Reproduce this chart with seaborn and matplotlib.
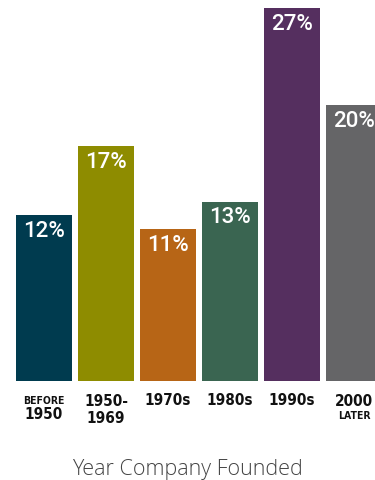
import matplotlib
matplotlib.use("Agg")
import matplotlib.pyplot as plt
import seaborn as sns
import pandas as pd

# Share of companies by founding period
periods = ["BEFORE 1950", "1950-1969", "1970s", "1980s", "1990s", "2000 LATER"]
shares = [12, 17, 11, 13, 27, 20]
colors = ["#003B4F", "#8E8C00", "#B76516", "#3A6551", "#552F5F", "#656567"]

# Tick label lines: (text, size class, top of line in pixels)
tick_lines = [
    [("BEFORE", "small", 396), ("1950", "big", 407)],
    [("1950-", "big", 394), ("1969", "big", 411)],
    [("1970s", "big", 393)],
    [("1980s", "big", 393)],
    [("1990s", "big", 393)],
    [("2000", "big", 394), ("LATER", "small", 411)],
]

df = pd.DataFrame({"period": periods, "share": shares})

sns.set_theme(style="white")
plt.rcParams["font.family"] = ["Liberation Sans", "DejaVu Sans"]

DPI = 100
PX_PER_UNIT = 13.8
fig = plt.figure(figsize=(3.75, 4.8), dpi=DPI)
ax = fig.add_axes([0, 99 / 480, 1, 381 / 480])

sns.barplot(data=df, x="period", y="share", hue="period", palette=colors,
            legend=False, width=56 / 62, saturation=1, linewidth=0, ax=ax)

ax.set_xlim(-44 / 62, (375 - 44) / 62)
ax.set_ylim(0, 381 / PX_PER_UNIT)
ax.axis("off")

# Value labels inside the top of each bar
for i, v in enumerate(shares):
    ax.annotate(f"{v}%", xy=(i, v), xytext=(0, -4), textcoords="offset points",
                ha="center", va="top", color="white", fontsize=16,
                fontweight=500, family=["Roboto", "DejaVu Sans"])

# Category labels under the bars
for i, lines in enumerate(tick_lines):
    for text, size, top_px in lines:
        fs = 11 if size == "big" else 7.5
        ax.annotate(text, xy=(i, 0), xycoords="data",
                    xytext=(0, -(top_px - 381) * 72 / DPI), textcoords="offset points",
                    ha="center", va="top", fontsize=fs, fontweight="bold",
                    fontstretch="condensed", family=["DejaVu Sans"],
                    color="#111111")

fig.text(0.5, 1 - 475.5 / 480, "Year Company Founded", ha="center", va="baseline",
         fontsize=15.5, fontweight="light", family=["Open Sans", "DejaVu Sans"],
         color="#444444")

fig.savefig("out.png", dpi=DPI, facecolor="white")
